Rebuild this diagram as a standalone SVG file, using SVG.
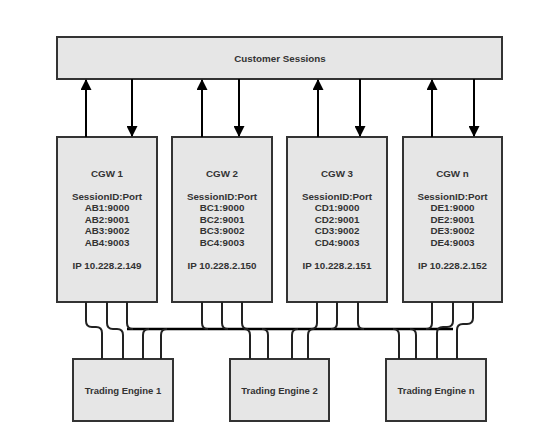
<svg xmlns="http://www.w3.org/2000/svg" width="553" height="442" viewBox="0 0 553 442">
<defs>
<style>
.box{fill:#e6e6e6;stroke:#333;stroke-width:2}
.t{font-family:"Liberation Sans",Arial,sans-serif;font-size:9.8px;font-weight:bold;fill:#333;text-anchor:middle}
.te{font-size:9.5px}
.arr{stroke:#000;stroke-width:2;fill:none}
.w{stroke:#222;stroke-width:2;fill:none}
.bus{stroke:#000;stroke-width:2.6;fill:none}
</style>
<marker id="ah" markerWidth="11" markerHeight="11" refX="10" refY="5.5" orient="auto" markerUnits="userSpaceOnUse" viewBox="0 0 11 11">
<path d="M0,0 L11,5.5 L0,11 Z" fill="#000"/>
</marker>
</defs>
<rect width="553" height="442" fill="#fff"/>
<g id="customer-sessions">
<rect class="box" x="57" y="37" width="445" height="42"/>
<text class="t" x="280" y="61.5">Customer Sessions</text>
</g>
<g id="cgw1">
<rect class="box" x="57" y="137" width="100" height="165"/>
<text class="t" x="107" y="176.5">CGW 1</text>
<text class="t" x="107" y="199.5">SessionID:Port<tspan x="107" dy="11.5">AB1:9000</tspan><tspan x="107" dy="11.5">AB2:9001</tspan><tspan x="107" dy="11.5">AB3:9002</tspan><tspan x="107" dy="11.5">AB4:9003</tspan></text>
<text class="t" x="107" y="268.5">IP 10.228.2.149</text>
</g>
<g id="cgw2">
<rect class="box" x="172" y="137" width="100" height="165"/>
<text class="t" x="222" y="176.5">CGW 2</text>
<text class="t" x="222" y="199.5">SessionID:Port<tspan x="222" dy="11.5">BC1:9000</tspan><tspan x="222" dy="11.5">BC2:9001</tspan><tspan x="222" dy="11.5">BC3:9002</tspan><tspan x="222" dy="11.5">BC4:9003</tspan></text>
<text class="t" x="222" y="268.5">IP 10.228.2.150</text>
</g>
<g id="cgw3">
<rect class="box" x="287" y="137" width="100" height="165"/>
<text class="t" x="337" y="176.5">CGW 3</text>
<text class="t" x="337" y="199.5">SessionID:Port<tspan x="337" dy="11.5">CD1:9000</tspan><tspan x="337" dy="11.5">CD2:9001</tspan><tspan x="337" dy="11.5">CD3:9002</tspan><tspan x="337" dy="11.5">CD4:9003</tspan></text>
<text class="t" x="337" y="268.5">IP 10.228.2.151</text>
</g>
<g id="cgwn">
<rect class="box" x="403" y="137" width="99" height="165"/>
<text class="t" x="452.5" y="176.5">CGW n</text>
<text class="t" x="452.5" y="199.5">SessionID:Port<tspan x="452.5" dy="11.5">DE1:9000</tspan><tspan x="452.5" dy="11.5">DE2:9001</tspan><tspan x="452.5" dy="11.5">DE3:9002</tspan><tspan x="452.5" dy="11.5">DE4:9003</tspan></text>
<text class="t" x="452.5" y="268.5">IP 10.228.2.152</text>
</g>
<g id="te1">
<rect class="box" x="73" y="359" width="100" height="62"/>
<text class="t te" x="123" y="394">Trading Engine 1</text>
</g>
<g id="te2">
<rect class="box" x="230" y="359" width="99" height="62"/>
<text class="t te" x="279.5" y="394">Trading Engine 2</text>
</g>
<g id="ten">
<rect class="box" x="386" y="359" width="100" height="62"/>
<text class="t te" x="436" y="394">Trading Engine n</text>
</g>
<g id="connectors">
<line class="arr" x1="86" y1="137" x2="86" y2="80" marker-end="url(#ah)"/>
<line class="arr" x1="132" y1="79" x2="132" y2="136" marker-end="url(#ah)"/>
<line class="arr" x1="202" y1="137" x2="202" y2="80" marker-end="url(#ah)"/>
<line class="arr" x1="239" y1="79" x2="239" y2="136" marker-end="url(#ah)"/>
<line class="arr" x1="318" y1="137" x2="318" y2="80" marker-end="url(#ah)"/>
<line class="arr" x1="360" y1="79" x2="360" y2="136" marker-end="url(#ah)"/>
<line class="arr" x1="432" y1="137" x2="432" y2="80" marker-end="url(#ah)"/>
<line class="arr" x1="474" y1="79" x2="474" y2="136" marker-end="url(#ah)"/>
<path class="bus" d="M127 329 H453"/>
<path class="w" d="M86 302 V321 Q86 327 92 327 H96 Q102 327 102 333 V359"/>
<path class="w" d="M107 302 V323 Q107 329 113 329 H117 Q123 329 123 335 V359"/>
<path class="w" d="M127 302 V323 Q127 329 133 329"/>
<path class="w" d="M149 329 Q143 329 143 335 V359"/>
<path class="w" d="M167 329 Q161 329 161 335 V359"/>
<path class="w" d="M202 302 V323 Q202 329 208 329"/>
<path class="w" d="M222 302 V323 Q222 329 228 329"/>
<path class="w" d="M242 302 V323 Q242 329 248 329"/>
<path class="w" d="M244 329 Q250 329 250 335 V359"/>
<path class="w" d="M262 329 Q268 329 268 335 V359"/>
<path class="w" d="M298 329 Q292 329 292 335 V359"/>
<path class="w" d="M314 329 Q308 329 308 335 V359"/>
<path class="w" d="M317 302 V323 Q317 329 311 329"/>
<path class="w" d="M337 302 V323 Q337 329 331 329"/>
<path class="w" d="M358 302 V323 Q358 329 364 329"/>
<path class="w" d="M393 329 Q399 329 399 335 V359"/>
<path class="w" d="M410 329 Q416 329 416 335 V359"/>
<path class="w" d="M432 302 V323 Q432 329 426 329"/>
<path class="w" d="M453 302 V321 Q453 327 447 327 H443 Q437 327 437 333 V359"/>
<path class="w" d="M473 302 V318 Q473 324 467 324 H463 Q457 324 457 330 V359"/>
</g>
</svg>
